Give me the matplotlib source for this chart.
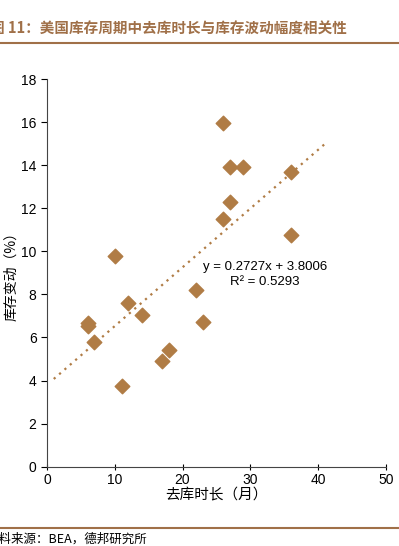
import matplotlib.pyplot as plt

plt.rcParams['font.family'] = ['Liberation Sans', 'Noto Sans CJK SC', 'DejaVu Sans']

# 去库时长（月） vs 库存变动（%）
months = [26, 27, 29, 36, 27, 26, 36, 10, 22, 12, 14, 6, 6, 7, 23, 18, 17, 11]
change = [15.97, 13.9, 13.9, 13.67, 12.3, 11.5, 10.78, 9.77, 8.2, 7.6, 7.02, 6.67, 6.55, 5.8, 6.7, 5.4, 4.9, 3.75]

slope = 0.2727
intercept = 3.8006
trend_x = [1, 41]
trend_y = [slope * x + intercept for x in trend_x]

brown = '#b07c45'
title_color = '#a07048'
cjk = ['Noto Sans CJK SC', 'DejaVu Sans']

fig = plt.figure(figsize=(3.99, 5.46), dpi=100)
ax = fig.add_axes([0.1178, 0.1453, 0.849, 0.71])

ax.plot(trend_x, trend_y, linestyle=(0, (1, 2.2)), color=brown, linewidth=1.6)
ax.scatter(months, change, marker='D', s=55, color=brown, zorder=3)

ax.text(32.2, 9.27, 'y = 0.2727x + 3.8006', ha='center', va='center', fontsize=9.5)
ax.text(32.2, 8.57, 'R² = 0.5293', ha='center', va='center', fontsize=9.5)

ax.set_xlim(0, 50)
ax.set_ylim(0, 18)
ax.set_xticks(range(0, 51, 10))
ax.set_yticks(range(0, 19, 2))
ax.tick_params(axis='x', direction='inout', length=5, labelsize=10, pad=2)
ax.tick_params(axis='y', direction='out', length=4, labelsize=10)
for s in ['top', 'right']:
    ax.spines[s].set_visible(False)
for s in ['left', 'bottom']:
    ax.spines[s].set_color('#444444')

ax.set_xlabel('去库时长（月）', fontsize=10.5, labelpad=1, family=cjk)
ax.set_ylabel('库存变动（%）', fontsize=10, family=cjk)
ax.yaxis.set_label_coords(-0.086, 0.5)

fig.text(-0.026, 0.947, '图 11：美国库存周期中去库时长与库存波动幅度相关性',
         fontsize=10.5, fontweight='bold', color=title_color, va='center', family=cjk)
fig.add_artist(plt.Line2D([0, 1], [0.921, 0.921], color=title_color, linewidth=1.5))
fig.add_artist(plt.Line2D([0, 1], [0.033, 0.033], color=title_color, linewidth=1.5))
fig.text(-0.035, 0.001, '资料来源：BEA，德邦研究所', fontsize=9, va='bottom', family=cjk)

fig.savefig('out.png', dpi=100)
